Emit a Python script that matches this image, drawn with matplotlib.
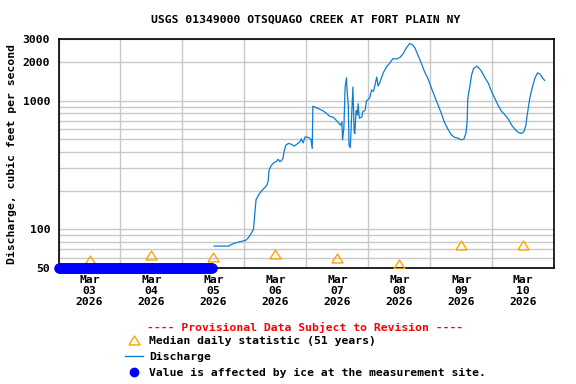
import matplotlib
matplotlib.use('Agg')
import matplotlib.pyplot as plt
import matplotlib.dates as mdates
import matplotlib.ticker as mticker
from matplotlib.lines import Line2D
import pandas as pd

# 15-min discharge record (cfs)
FLOW_TIMES = [
    '03-05 12:15', '03-05 18:00', '03-05 18:15', '03-05 20:15', '03-05 22:15',
    '03-06 00:30', '03-06 01:30', '03-06 02:30', '03-06 03:30', '03-06 04:00',
    '03-06 04:30', '03-06 05:15', '03-06 06:00', '03-06 07:00', '03-06 08:00',
    '03-06 08:45', '03-06 09:15', '03-06 09:30', '03-06 10:15', '03-06 11:15',
    '03-06 12:30', '03-06 13:00', '03-06 13:45', '03-06 14:30', '03-06 15:00',
    '03-06 15:15', '03-06 16:00', '03-06 17:00', '03-06 18:15', '03-06 19:15',
    '03-06 20:15', '03-06 21:30', '03-06 22:00', '03-06 22:45', '03-06 23:30',
    '03-07 00:45', '03-07 01:45', '03-07 02:15', '03-07 02:30', '03-07 04:30',
    '03-07 06:30', '03-07 07:45', '03-07 09:00', '03-07 10:30', '03-07 11:45',
    '03-07 13:15', '03-07 13:45', '03-07 14:00', '03-07 14:30', '03-07 15:00',
    '03-07 15:30', '03-07 15:45', '03-07 16:15', '03-07 16:30', '03-07 17:00',
    '03-07 17:30', '03-07 18:00', '03-07 18:30', '03-07 18:45', '03-07 19:15',
    '03-07 19:45', '03-07 20:00', '03-07 20:30', '03-07 21:30', '03-07 21:45',
    '03-07 22:45', '03-07 23:15', '03-08 00:30', '03-08 01:15', '03-08 02:00',
    '03-08 03:15', '03-08 03:45', '03-08 04:30', '03-08 05:45', '03-08 07:00',
    '03-08 08:15', '03-08 09:30', '03-08 11:00', '03-08 12:15', '03-08 13:30',
    '03-08 14:45', '03-08 16:00', '03-08 17:00', '03-08 18:00', '03-08 19:15',
    '03-08 20:30', '03-08 21:45', '03-08 23:00', '03-09 00:30', '03-09 01:45',
    '03-09 03:00', '03-09 04:15', '03-09 05:30', '03-09 07:00', '03-09 08:15',
    '03-09 09:30', '03-09 10:45', '03-09 12:00', '03-09 13:00', '03-09 13:45',
    '03-09 14:15', '03-09 14:30', '03-09 15:15', '03-09 16:00', '03-09 16:45',
    '03-09 18:00', '03-09 18:45', '03-09 19:45', '03-09 21:00', '03-09 22:30',
    '03-09 23:45', '03-10 01:00', '03-10 02:15', '03-10 03:30', '03-10 04:45',
    '03-10 06:00', '03-10 07:30', '03-10 08:45', '03-10 10:00', '03-10 11:15',
    '03-10 12:15', '03-10 13:00', '03-10 13:30', '03-10 14:30', '03-10 15:30',
    '03-10 16:30', '03-10 17:30', '03-10 18:30', '03-10 19:15', '03-10 20:15',
]
FLOW_CFS = [
    74, 74, 75, 78, 80,
    82, 86, 92, 100, 129,
    170, 181, 192, 202, 212,
    221, 241, 285, 310, 328,
    338, 350, 335, 345, 360,
    393, 450, 465, 458, 443,
    458, 478, 505, 470, 523,
    518, 501, 425, 905, 870,
    833, 796, 757, 741, 697,
    644, 684, 495, 609, 1275,
    1505, 1210, 890, 450, 432,
    730, 1275, 575, 555, 843,
    772, 946, 730, 750, 818,
    843, 993, 1050, 1210, 1180,
    1525, 1300, 1400, 1645, 1830,
    1955, 2120, 2110, 2170, 2325,
    2580, 2780, 2725, 2580, 2250,
    1955, 1680, 1500, 1240, 1070,
    920, 797, 675, 590, 538,
    518, 510, 495, 503, 555,
    684, 1040, 1275, 1590, 1780,
    1850, 1800, 1700, 1525, 1360,
    1170, 1040, 920, 830, 780,
    730, 644, 600, 567, 555,
    575, 644, 772, 1040, 1275,
    1495, 1645, 1605, 1525, 1435,
]

MEDIAN_DAYS = ['03-03', '03-04', '03-05', '03-06', '03-07', '03-08', '03-09', '03-10']
MEDIAN_CFS = [58, 63, 61, 64, 60, 54, 76, 76]

# ice-affected period, plotted on the axis floor
ICE_START = '2026-03-03 00:00'
ICE_END = '2026-03-05 11:30'
ICE_CFS = 50

Y_TICKS = [50, 100, 1000, 2000, 3000]
Y_GRID = [60, 70, 80, 90, 200, 300, 400, 500, 600, 700, 800, 900]

FONT = dict(family='DejaVu Sans Mono', weight='bold', size=8.2)

# slightly squat open triangle, like the USGS median marker
TRI = [(-1, -0.8), (1, -0.8), (0, 0.8), (-1, -0.8)]

flow_t = pd.to_datetime(['2026-' + t for t in FLOW_TIMES])
med_t = pd.to_datetime(['2026-' + d + ' 12:00' for d in MEDIAN_DAYS])
ice_t = pd.date_range(ICE_START, ICE_END, freq='15min')

fig = plt.figure(figsize=(5.76, 3.84), dpi=100)
ax = fig.add_axes([0.1016, 0.3021, 0.8607, 0.5956])

ax.plot(flow_t, FLOW_CFS, color='#0b7dd1', lw=0.9, zorder=3)
ax.plot(med_t, MEDIAN_CFS, ls='none', marker=TRI, ms=8, mfc='none',
        mec='#ffa500', mew=1.0, zorder=3)
ax.plot(ice_t, [ICE_CFS] * len(ice_t), ls='none', marker='o', ms=6.3,
        color='#0000ff', clip_on=False, zorder=4)

ax.set_yscale('log')
ax.set_ylim(50, 3000)
ax.set_xlim(pd.Timestamp('2026-03-03'), pd.Timestamp('2026-03-11'))

ax.yaxis.set_major_locator(mticker.FixedLocator(Y_TICKS))
ax.yaxis.set_major_formatter(mticker.FixedFormatter([str(v) for v in Y_TICKS]))
ax.yaxis.set_minor_locator(mticker.FixedLocator(Y_GRID))
ax.yaxis.set_minor_formatter(mticker.NullFormatter())

ax.xaxis.set_major_locator(mdates.DayLocator())
ax.xaxis.set_major_formatter(mticker.NullFormatter())
ax.xaxis.set_minor_locator(mdates.HourLocator(byhour=[12]))
ax.xaxis.set_minor_formatter(mdates.DateFormatter('%b\n%d\n%Y'))

ax.tick_params(which='both', length=0)
ax.tick_params(axis='y', which='major', pad=6)
ax.tick_params(axis='x', which='minor', pad=5)
for lab in ax.get_yticklabels() + ax.get_xticklabels(minor=True):
    lab.set_fontproperties(FONT)
    lab.set_linespacing(1.1)

ax.grid(True, which='major', color='#c8c8c8', lw=1.0)
ax.grid(True, which='minor', axis='y', color='#c8c8c8', lw=1.0)
ax.set_axisbelow(True)
for sp in ax.spines.values():
    sp.set_linewidth(1.2)

ax.set_ylabel('Discharge, cubic feet per second', fontdict=FONT, labelpad=4)
fig.text(0.53, 0.95, 'USGS 01349000 OTSQUAGO CREEK AT FORT PLAIN NY',
         ha='center', va='center', **FONT)

fig.text(0.53, 0.148, '---- Provisional Data Subject to Revision ----',
         ha='center', va='center', color='#ff0000', **FONT)

handles = [
    Line2D([], [], ls='none', marker=TRI, ms=8, mfc='none', mec='#ffa500', mew=1.0),
    Line2D([], [], color='#0b7dd1', lw=1.0),
    Line2D([], [], ls='none', marker='o', ms=6, color='#0000ff'),
]
labels = ['Median daily statistic (51 years)', 'Discharge',
          'Value is affected by ice at the measurement site.']
fig.legend(handles, labels, loc='upper left', bbox_to_anchor=(0.217, 0.126),
           frameon=False, prop=FONT, handlelength=1.6, handletextpad=0.55,
           labelspacing=0.56, borderpad=0, borderaxespad=0)

fig.savefig('out.png', dpi=100)
